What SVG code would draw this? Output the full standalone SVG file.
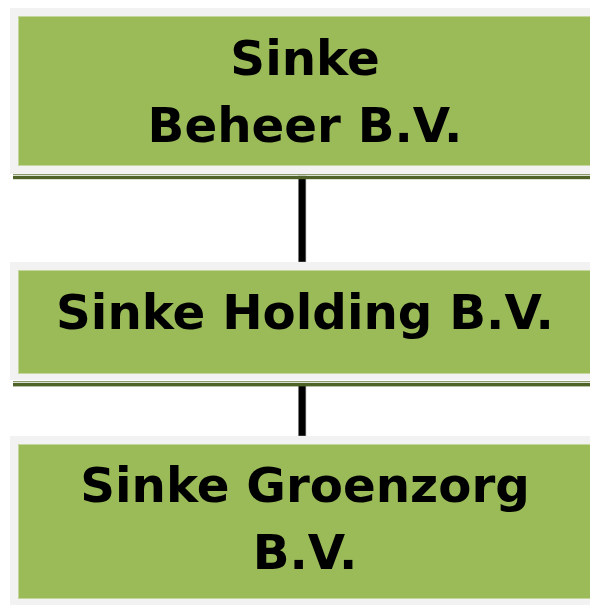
<svg xmlns="http://www.w3.org/2000/svg" width="590" height="605" viewBox="0 0 590 605">
<style>
.frame{fill:#f2f2f2}
.box{fill:#9bbb59;stroke:#c3d69b;stroke-width:1}
.lbl{font-family:"DejaVu Sans",Verdana,sans-serif;font-weight:bold;font-size:48.3px;fill:#000;text-anchor:middle}
.rule1{fill:#8a9a6a}
.rule2{fill:#4f6228}
.conn{fill:#000;stroke:#9a9a9a;stroke-width:0.6}
</style>
<rect width="590" height="605" fill="#fff"/>
<g id="connectors">
<rect class="conn" x="298.3" y="176" width="7.6" height="86"/>
<rect class="conn" x="298.3" y="384" width="7.6" height="52"/>
</g>
<g id="node1">
<rect class="frame" x="10" y="8" width="600" height="166"/>
<rect class="box" x="18.5" y="16.5" width="600" height="149"/>
<rect class="rule1" x="13" y="174" width="590" height="1.3"/>
<rect class="rule2" x="13" y="176" width="590" height="3.2"/>
<text class="lbl" x="305" y="75">Sinke</text>
<text class="lbl" x="305" y="142">Beheer B.V.</text>
</g>
<g id="node2">
<rect class="frame" x="10" y="262" width="600" height="118"/>
<rect class="box" x="18.5" y="270.5" width="600" height="103"/>
<rect class="rule1" x="13" y="381" width="590" height="1.3"/>
<rect class="rule2" x="13" y="383" width="590" height="3.4"/>
<text class="lbl" x="305" y="329">Sinke Holding B.V.</text>
</g>
<g id="node3">
<rect class="frame" x="10" y="436" width="600" height="175"/>
<rect class="box" x="18.5" y="444.5" width="600" height="154"/>
<text class="lbl" x="305" y="502">Sinke Groenzorg</text>
<text class="lbl" x="305" y="569">B.V.</text>
</g>
</svg>
